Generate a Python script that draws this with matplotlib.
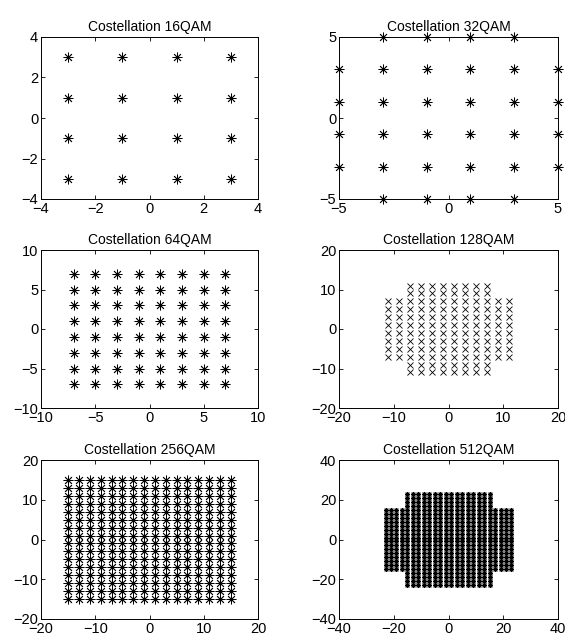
import itertools

import matplotlib
matplotlib.use("Agg")
from matplotlib import pyplot as plt

plt.rcParams['font.family'] = ['Liberation Sans', 'DejaVu Sans']

# Constellation levels (I and Q share the same levels)
levels_16 = [-3, -1, 1, 3]
levels_32 = [-5, -3, -1, 1, 3, 5]
levels_64 = [-7, -5, -3, -1, 1, 3, 5, 7]
levels_128 = [-11, -9, -7, -5, -3, -1, 1, 3, 5, 7, 9, 11]
levels_256 = [-15, -13, -11, -9, -7, -5, -3, -1, 1, 3, 5, 7, 9, 11, 13, 15]
levels_512 = [-23, -21, -19, -17, -15, -13, -11, -9, -7, -5, -3, -1,
              1, 3, 5, 7, 9, 11, 13, 15, 17, 19, 21, 23]

# Cross constellations: points dropped where both |I| and |Q| exceed this
corner_32 = 4
corner_128 = 8
corner_512 = 16

titles = ['Costellation 16QAM', 'Costellation 32QAM', 'Costellation 64QAM',
          'Costellation 128QAM', 'Costellation 256QAM', 'Costellation 512QAM']
limits = [4, 5, 10, 20, 20, 40]
ticks = [[-4, -2, 0, 2, 4], [-5, 0, 5], [-10, -5, 0, 5, 10],
         [-20, -10, 0, 10, 20], [-20, -10, 0, 10, 20], [-40, -20, 0, 20, 40]]


def points(levels, corner=None):
    pts = [(i, q) for i, q in itertools.product(levels, levels)
           if corner is None or not (abs(i) > corner and abs(q) > corner)]
    return [p[0] for p in pts], [p[1] for p in pts]


sets = [points(levels_16), points(levels_32, corner_32), points(levels_64),
        points(levels_128, corner_128), points(levels_256), points(levels_512, corner_512)]
asterisk = (8, 2, 0)  # matlab style '*': line spokes, not a filled star
markers = [asterisk, asterisk, asterisk, 'x', asterisk, asterisk]
sizes = [7, 7, 7, 4.5, 7, 3.6]
widths = [0.6, 0.6, 0.6, 0.6, 0.6, 0.7]

fig = plt.figure(figsize=(5.65, 6.39), dpi=100)

# axes boxes in pixels: left, right / top, bottom
cols = [(41, 258), (339, 558)]
rows = [(37, 199), (250, 408), (460, 619)]
W, H = 565, 639

for k in range(6):
    r, c = divmod(k, 2)
    x0, x1 = cols[c]
    y0, y1 = rows[r]
    ax = fig.add_axes([x0 / W, 1 - y1 / H, (x1 - x0) / W, (y1 - y0) / H])
    xs, ys = sets[k]
    ax.plot(xs, ys, linestyle='none', marker=markers[k], markersize=sizes[k],
            color='black', markeredgewidth=widths[k], clip_on=False)
    lim = limits[k]
    ax.set_xlim(-lim, lim)
    ax.set_ylim(-lim, lim)
    ax.set_xticks(ticks[k])
    ax.set_yticks(ticks[k])
    ax.tick_params(direction='in', length=3, width=0.6, top=True, right=True,
                   labelsize=10.5, pad=2)
    for sp in ax.spines.values():
        sp.set_linewidth(0.7)
    ax.set_title(titles[k], fontsize=10, pad=4)

fig.savefig('out.png', dpi=100)
